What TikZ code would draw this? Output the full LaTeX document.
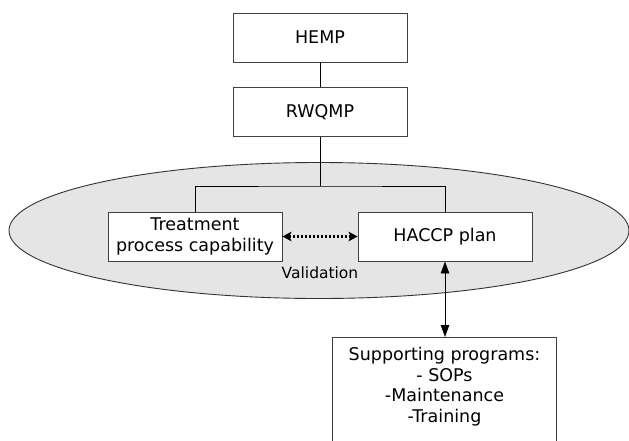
\documentclass[tikz,border=0pt]{standalone}
\usepackage{fontspec}
\setmainfont{DejaVu Sans}
\usetikzlibrary{arrows.meta,shapes.geometric}
\begin{document}
\begin{tikzpicture}[x=1pt,y=-1pt,
  boxtext/.style={font=\fontsize{17.5}{20.5}\selectfont, align=center},
  box/.style={draw=black!75, line width=0.9pt, fill=white, minimum width=174pt, minimum height=49pt, inner sep=0pt, boxtext},
  conn/.style={draw=black, line width=0.9pt},
  solidarr/.style={conn, {Triangle[length=12pt,width=8.5pt]}-{Triangle[length=12pt,width=8.5pt]}},
  dotarr/.style={draw=black, line width=2.2pt, dash pattern=on 2.2pt off 1.8pt, {Stealth[length=9pt,width=9.5pt,inset=2pt]}-{Stealth[length=9pt,width=9.5pt,inset=2pt]}}
]
\useasboundingbox (0,0) rectangle (629,440);
\clip (0,0) rectangle (629,440);
% ellipse
\node[draw=black!80, line width=0.9pt, fill=black!10, ellipse, minimum width=620pt, minimum height=136pt, inner sep=0pt] (val) at (319,230.5) {};
\node[font=\fontsize{15.5}{18}\selectfont] (valtxt) at (320,273) {Validation};
% boxes
\node[box] (hemp) at (320,37.5) {HEMP};
\node[box] (rwqmp) at (320,112) {RWQMP};
\node[box] (treat) at (195,236.5) {Treatment\\process capability};
\node[box] (haccp) at (445,236.5) {HACCP plan};
% supporting programs
\node[boxtext, anchor=north, minimum width=223pt, inner xsep=0pt, inner ysep=10pt] (sup) at (444.5,337) {Supporting programs:\\- SOPs\\-Maintenance\\-Training};
\draw[draw=black!75, line width=0.9pt] ([yshift=-30pt]sup.south west) |- (sup.north east) -- ([yshift=-30pt]sup.south east);
% connectors
\draw[conn] (hemp.south) -- (rwqmp.north);
\coordinate (split) at (320,186);
\draw[conn] (rwqmp.south) -- (split);
\draw[conn] (treat.north) |- (split) -| (haccp.north);
\draw[dotarr] (treat.east) -- (haccp.west);
\draw[solidarr] (haccp.south) -- (haccp.south |- sup.north);
\end{tikzpicture}
\end{document}
